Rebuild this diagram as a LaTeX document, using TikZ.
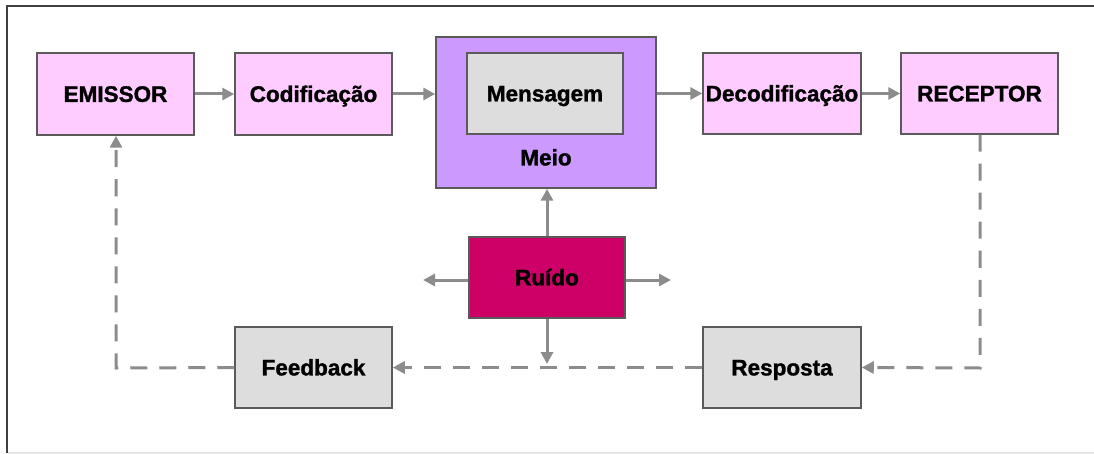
\documentclass[tikz,border=0pt]{standalone}
\usepackage{fontspec}
\setmainfont{Liberation Sans}
\newfontfamily\heavyfont{Liberation Sans}[BoldFeatures={FakeBold=1.3}]
\usetikzlibrary{arrows.meta}
\definecolor{pinkbox}{HTML}{FFCCFF}
\definecolor{meiobox}{HTML}{CC99FF}
\definecolor{greybox}{HTML}{DDDDDD}
\definecolor{ruidobox}{HTML}{CC0066}
\definecolor{edge}{HTML}{5A5A5A}
\definecolor{arr}{HTML}{8C8C8C}
\tikzset{
  lbl/.style={inner sep=0pt, text height=15.8pt, text depth=0pt, font=\heavyfont\fontsize{22.5}{26}\selectfont\bfseries},
  box/.style={lbl, draw=edge, line width=1.5pt},
  flow/.style={draw=arr, line width=3pt, -{Triangle[length=12pt,width=12pt]}},
  fb/.style={draw=arr, line width=3pt, dash pattern=on 17pt off 12pt},
  fbarrow/.style={fb, -{Triangle[length=12pt,width=12pt]}},
}
\begin{document}
\begin{tikzpicture}[x=1pt,y=-1pt]
\useasboundingbox (0,0) rectangle (1094,454);
% frame
\draw[draw=black!10, line width=1.5pt] (7,453) -- (1094,453);
\draw[draw=black!75, line width=2pt] (7,453) -- (7,6) -- (1094,6);
% boxes
\node[box, fill=pinkbox, minimum width=157pt, minimum height=82pt] (emissor) at (115.5,94) {EMISSOR};
\node[box, fill=pinkbox, minimum width=157pt, minimum height=82pt] (codif) at (313.5,94) {Codificação};
\node[box, fill=meiobox, minimum width=220pt, minimum height=151pt] (meio) at (546,112.5) {};
\node[box, fill=greybox, minimum width=156pt, minimum height=81pt] (mens) at (545,93.5) {Mensagem};
\node[lbl] (meiotxt) at (546,157.5) {Meio};
\node[box, fill=pinkbox, minimum width=158pt, minimum height=81pt] (decod) at (782,93.5) {Decodificação};
\node[box, fill=pinkbox, minimum width=157pt, minimum height=81pt] (recep) at (979.5,93.5) {RECEPTOR};
\node[box, fill=ruidobox, minimum width=156pt, minimum height=81pt] (ruido) at (547,277.5) {Ruído};
\node[box, fill=greybox, minimum width=157pt, minimum height=81pt] (feed) at (313.5,367.5) {Feedback};
\node[box, fill=greybox, minimum width=158pt, minimum height=81pt] (resp) at (782,367.5) {Resposta};
% coordinates
\coordinate (rl) at (423,280);
\coordinate (rr) at (671,280);
\coordinate (rd) at (547,364);
\coordinate (cr) at (980,368);
\coordinate (cl) at (116,368);
% flow arrows
\draw[flow] (emissor) -- (codif);
\draw[flow] (codif.east) -- (meio.west |- codif.east);
\draw[flow] (meio.east |- decod.west) -- (decod.west);
\draw[flow] (decod) -- (recep);
\draw[flow] (ruido.north) -- (meio.south -| ruido.north);
\draw[flow] (ruido.west |- rl) -- (rl);
\draw[flow] (ruido.east |- rr) -- (rr);
\draw[flow] (ruido.south) -- (rd);
% feedback loop
\draw[fbarrow] (recep.south -| cr) -- (cr) -- (resp.east);
\draw[fbarrow] (resp.west) -- (feed.east);
\draw[fbarrow] (feed.west) -- (cl) -- (emissor.south -| cl);
\end{tikzpicture}
\end{document}
